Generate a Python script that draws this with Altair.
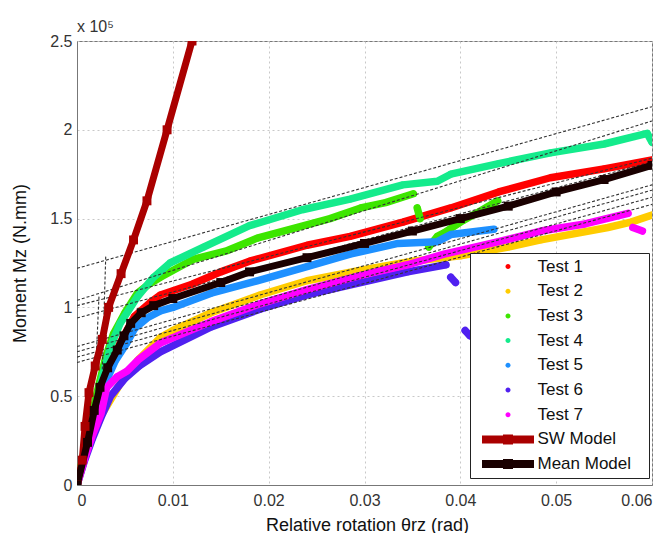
import altair as alt
import pandas as pd

# ---------------- data ----------------
series_names = ["Test 1", "Test 2", "Test 3", "Test 4", "Test 5", "Test 6", "Test 7",
                "SW Model", "Mean Model"]
series_colors = ["#ff0000", "#ffcc00", "#3de600", "#14eb8c", "#1e90ff", "#5020f0",
                 "#ff00ff", "#aa0000", "#1a0000"]

x_ticks = [0, 0.01, 0.02, 0.03, 0.04, 0.05, 0.06]
y_ticks = [0, 0.5, 1, 1.5, 2, 2.5]   # x 10^5

t1_x = [0, 0.0010, 0.0020, 0.0030, 0.0045, 0.0060, 0.0077, 0.0087, 0.012, 0.015, 0.018,
        0.024, 0.0285, 0.034, 0.039, 0.044, 0.0494, 0.055, 0.060]
t1_y = [0, 0.24, 0.45, 0.62, 0.80, 0.95, 1.03, 1.07, 1.13, 1.20, 1.26,
        1.35, 1.40, 1.48, 1.56, 1.65, 1.73, 1.78, 1.83]

t2_x = [0, 0.0008, 0.0016, 0.0024, 0.0035, 0.0045, 0.0063, 0.0087, 0.010, 0.014, 0.0191,
        0.024, 0.0296, 0.035, 0.040, 0.045, 0.0484, 0.0554, 0.0578, 0.060]
t2_y = [0, 0.15, 0.28, 0.38, 0.48, 0.57, 0.70, 0.83, 0.87, 0.97, 1.07,
        1.15, 1.21, 1.26, 1.29, 1.34, 1.38, 1.45, 1.48, 1.52]

t3_x = [0, 0.0010, 0.0020, 0.0030, 0.0038, 0.0050, 0.0063, 0.0075, 0.0087, 0.0121, 0.0157,
        0.0188, 0.0230, 0.0264, 0.0296, 0.0322, 0.0351]
t3_y = [0, 0.25, 0.50, 0.72, 0.85, 0.97, 1.08, 1.13, 1.17, 1.27, 1.32,
        1.39, 1.45, 1.50, 1.56, 1.59, 1.64]
t3b_x = [0.0355, 0.0358]
t3b_y = [1.56, 1.50]
t3c_x = [0.0367, 0.0376, 0.0383, 0.0403, 0.0420, 0.0439]
t3c_y = [1.34, 1.40, 1.42, 1.49, 1.54, 1.60]

t4_x = [0, 0.0010, 0.0020, 0.0027, 0.0035, 0.0045, 0.0063, 0.0080, 0.0097, 0.0132, 0.018,
        0.0235, 0.0285, 0.034, 0.0376, 0.039, 0.044, 0.0494, 0.055, 0.0595, 0.060]
t4_y = [0, 0.22, 0.45, 0.62, 0.78, 0.91, 1.06, 1.17, 1.25, 1.34, 1.46,
        1.55, 1.61, 1.69, 1.71, 1.75, 1.81, 1.87, 1.92, 1.98, 1.93]

t5_x = [0, 0.0010, 0.0020, 0.0030, 0.0040, 0.0052, 0.0060, 0.0073, 0.0087, 0.010, 0.014,
        0.0188, 0.024, 0.0285, 0.0335, 0.0376, 0.039, 0.0435]
t5_y = [0, 0.22, 0.42, 0.58, 0.70, 0.80, 0.88, 0.94, 0.98, 1.00, 1.08,
        1.15, 1.23, 1.30, 1.36, 1.37, 1.41, 1.44]

t6_x = [0, 0.0008, 0.0016, 0.0025, 0.0035, 0.0050, 0.0065, 0.0087, 0.014, 0.0191, 0.024,
        0.0296, 0.0345, 0.0385]
t6_y = [0, 0.14, 0.26, 0.38, 0.50, 0.60, 0.67, 0.75, 0.89, 0.99, 1.07,
        1.14, 1.20, 1.24]
t6b_x = [0.0390, 0.0395]
t6b_y = [1.17, 1.14]
t6c_x = [0.0405, 0.0410]
t6c_y = [0.87, 0.84]

t7_x = [0, 0.0008, 0.0016, 0.0025, 0.0031, 0.0042, 0.0052, 0.0065, 0.0087, 0.014, 0.0191,
        0.024, 0.0296, 0.0345, 0.0383, 0.044, 0.0484, 0.053, 0.0575]
t7_y = [0, 0.15, 0.28, 0.40, 0.55, 0.61, 0.64, 0.71, 0.80, 0.92, 1.02,
        1.10, 1.18, 1.24, 1.30, 1.37, 1.43, 1.47, 1.53]
t7b_x = [0.0580, 0.0590]
t7b_y = [1.45, 1.43]

sw_x = [0, 0.00055, 0.00084, 0.00125, 0.0019, 0.00264, 0.0033, 0.0046, 0.0059, 0.0073,
        0.0094, 0.0120]
sw_y = [0, 0.14, 0.33, 0.52, 0.67, 0.82, 1.0, 1.19, 1.38, 1.6, 2.0, 2.5]

mean_x = [0, 0.0011, 0.0018, 0.0024, 0.0032, 0.0042, 0.0049, 0.0056, 0.0067, 0.0080, 0.0100,
          0.0150, 0.0180, 0.0240, 0.0300, 0.0350, 0.0400, 0.0450, 0.0500, 0.0550, 0.0600]
mean_y = [0, 0.24, 0.42, 0.55, 0.66, 0.76, 0.84, 0.91, 0.97, 1.01, 1.05,
          1.14, 1.20, 1.28, 1.36, 1.43, 1.50, 1.57, 1.65, 1.72, 1.80]

# dashed linear fits (value at x=0 and x=0.06)
fit_x = [0, 0.06]
fit_y0 = [1.22, 1.04, 1.01, 0.94, 0.78, 0.75, 0.72, 0.69]
fit_y1 = [2.13, 2.05, 1.84, 1.82, 1.69, 1.66, 1.62, 1.58]
# steep dashed initial-stiffness lines
steep1_x = [0.00264, 0.0030]
steep1_y = [0.65, 1.29]
steep2_x = [0.00195, 0.0023]
steep2_y = [0.65, 1.07]

# ---------------- tables ----------------
def rows(series, seg, xs, ys):
    return [{"series": series, "seg": f"{series}-{seg}", "i": i, "x": a, "y": b}
            for i, (a, b) in enumerate(zip(xs, ys))]

test_rows = (rows("Test 1", 0, t1_x, t1_y) + rows("Test 2", 0, t2_x, t2_y)
             + rows("Test 3", 0, t3_x, t3_y) + rows("Test 3", 1, t3b_x, t3b_y)
             + rows("Test 3", 2, t3c_x, t3c_y) + rows("Test 4", 0, t4_x, t4_y)
             + rows("Test 5", 0, t5_x, t5_y) + rows("Test 6", 0, t6_x, t6_y)
             + rows("Test 6", 1, t6b_x, t6b_y) + rows("Test 6", 2, t6c_x, t6c_y)
             + rows("Test 7", 0, t7_x, t7_y) + rows("Test 7", 1, t7b_x, t7b_y))
tests = pd.DataFrame(test_rows)
models = pd.DataFrame(rows("SW Model", 0, sw_x, sw_y) + rows("Mean Model", 0, mean_x, mean_y))

fit_rows = []
for k, (a, b) in enumerate(zip(fit_y0, fit_y1)):
    fit_rows += rows("fit", k, fit_x, [a, b])
fit_rows += rows("fit", "s1", steep1_x, steep1_y) + rows("fit", "s2", steep2_x, steep2_y)
fits = pd.DataFrame(fit_rows)

FONT = "Liberation Sans"

x_enc = alt.X("x:Q", scale=alt.Scale(domain=[0, 0.06], nice=False, zero=False),
              axis=alt.Axis(values=x_ticks, format="~g", title="Relative rotation  θrz (rad)",
                            titleX=290, titleY=45, titleBaseline="alphabetic",
                            labelPadding=7, ticks=False))
y_enc = alt.Y("y:Q", scale=alt.Scale(domain=[0, 2.5], nice=False, zero=False),
              axis=alt.Axis(values=y_ticks, format="~g", title="Moment Mz (N.mm)",
                            titleX=-48, titleY=222, labelPadding=5, ticks=False))
color_scale = alt.Scale(domain=series_names, range=series_colors)

# legend symbols (unit = 5 px): line with square for models, small dot for tests
model_path = "M-5.2,-0.8H5.2V0.8H-5.2Z M-1,-1H1V1H-1Z"
dot_path = "M0.5,0A0.5,0.5,0,1,1,-0.5,0A0.5,0.5,0,1,1,0.5,0Z"
sym_expr = ("(datum.label == 'SW Model' || datum.label == 'Mean Model') ? '"
            + model_path + "' : '" + dot_path + "'")

# an invisible right-hand title only widens the legend frame
legend = alt.Legend(title="M", titleOrient="right", titleOpacity=0, titleFontSize=10,
                    titlePadding=4,
                    orient="none", legendX=393, legendY=212,
                    fillColor="white", strokeColor="#222", padding=5,
                    symbolType=alt.ExprRef(expr=sym_expr), symbolSize=100,
                    symbolStrokeWidth=0, symbolOpacity=1, symbolOffset=24.5,
                    labelOffset=21, labelFontSize=17, labelFont=FONT, labelColor="#111",
                    rowPadding=6.7)

# legend-bearing layer first so its legend wins the merge
test_pts = alt.Chart(tests).mark_circle(size=45, opacity=1, clip=True).encode(
    x=x_enc, y=y_enc,
    color=alt.Color("series:N", scale=color_scale, legend=legend))

test_lines = alt.Chart(tests).mark_line(strokeWidth=7.5, strokeCap="round", strokeJoin="round",
                                        clip=True).encode(
    x="x:Q", y="y:Q",
    color=alt.Color("series:N", scale=color_scale, legend=None),
    detail="seg:N", order="i:Q")

fit_lines = alt.Chart(fits).mark_line(strokeWidth=1.1, strokeDash=[3, 2], color="#333",
                                      clip=True).encode(
    x="x:Q", y="y:Q", detail="seg:N", order="i:Q")

model_lines = alt.Chart(models).mark_line(strokeWidth=7, strokeJoin="round",
                                          clip=True).encode(
    x="x:Q", y="y:Q",
    color=alt.Color("series:N", scale=color_scale, legend=None),
    detail="seg:N", order="i:Q")

model_pts = alt.Chart(models).mark_square(size=80, opacity=1, clip=True).encode(
    x="x:Q", y="y:Q",
    color=alt.Color("series:N", scale=color_scale, legend=None))

chart = alt.layer(test_pts, test_lines, fit_lines, model_lines, model_pts).properties(
    width=575, height=444,
    padding={"left": 69, "top": 33, "right": 5, "bottom": 48},
    autosize=alt.AutoSizeParams(type="none"),
    title=alt.TitleParams("x 10⁵", anchor="start", frame="group", fontSize=16,
                          fontWeight="normal", color="#333", font=FONT, offset=8, dy=10),
).configure_view(stroke="#777", strokeWidth=1).configure_axis(
    grid=True, gridColor="#c8c8c8", gridDash=[2, 3], gridWidth=1,
    domainColor="#777", labelFontSize=16, labelColor="#333", labelFont=FONT,
    titleFontSize=18, titleColor="#111", titleFontWeight="normal", titleFont=FONT,
)

chart.save("out.html", embed_options={"renderer": "svg", "actions": False})
